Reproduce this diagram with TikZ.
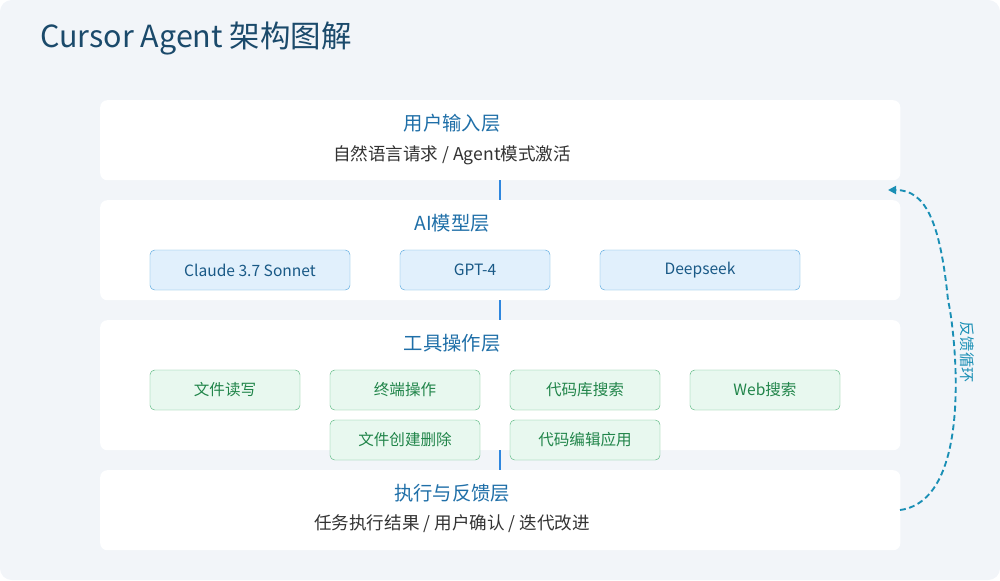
\documentclass[tikz,border=0pt]{standalone}
\usepackage{fontspec}
\setmainfont{Noto Sans CJK SC}
\usetikzlibrary{positioning,arrows.meta}
\definecolor{bgcol}{HTML}{F2F5F9}
\definecolor{titlecol}{HTML}{1B4A6B}
\definecolor{headcol}{HTML}{1F6FA8}
\definecolor{linkcol}{HTML}{2E86DE}
\definecolor{loopcol}{HTML}{1A8FB5}
\definecolor{modelfill}{HTML}{E1F0FC}
\definecolor{modeldraw}{HTML}{5AA9DE}
\definecolor{toolfill}{HTML}{E8F8EF}
\definecolor{tooldraw}{HTML}{5DBA83}
\definecolor{tooltext}{HTML}{21854A}
\tikzset{
  layerbox/.style={fill=white,rounded corners=6pt,minimum width=24cm,anchor=north west,inner sep=0pt},
  layerhead/.style={text=headcol,font=\fontsize{16.5}{19}\selectfont},
  layertext/.style={text=black!80,font=\fontsize{15}{17}\selectfont},
  modelbox/.style={fill=modelfill,draw=modeldraw,rounded corners=4pt,minimum height=1.2cm,text=headcol!80!black,font=\fontsize{13.3}{15}\selectfont},
  toolbox/.style={fill=toolfill,draw=tooldraw,rounded corners=4pt,minimum width=4.5cm,minimum height=1.2cm,text=tooltext,font=\fontsize{13.3}{15}\selectfont},
  layerlink/.style={draw=linkcol,line width=2pt}
}
\begin{document}
\begin{tikzpicture}[x=0.03cm,y=-0.03cm]
  \fill[bgcol,rounded corners=10pt] (0,0) rectangle (1000,580);
  \useasboundingbox (0,0) rectangle (1000,580);
  \node[anchor=west,text=titlecol,font=\fontsize{26}{30}\selectfont] (title) at (36,38) {Cursor Agent 架构图解};
  % layers
  \node[layerbox,minimum height=2.4cm] (input) at (100,100) {};
  \node[layerbox,minimum height=3cm] (model) at (100,200) {};
  \node[layerbox,minimum height=3.9cm] (tool) at (100,320) {};
  \node[layerbox,minimum height=2.4cm] (exec) at (100,470) {};
  \draw[layerlink] (input.south) -- (model.north);
  \draw[layerlink] (model.south) -- (tool.north);
  \draw[layerlink] (tool.south) -- (exec.north);
  % layer texts
  \node[layerhead] (inputhead) at (452,123) {用户输入层};
  \node[layertext] (inputtext) at (452,155) {自然语言请求 / Agent模式激活};
  \node[layerhead] (modelhead) at (452,223) {AI模型层};
  \node[layerhead] (toolhead) at (452,343) {工具操作层};
  \node[layerhead] (exechead) at (452,493) {执行与反馈层};
  \node[layertext] (exectext) at (452,524) {任务执行结果 / 用户确认 / 迭代改进};
  % models
  \node[modelbox,minimum width=6cm] (claude) at (250,270) {Claude 3.7 Sonnet};
  \node[modelbox,minimum width=4.5cm] (gpt) at (475,270) {GPT-4};
  \node[modelbox,minimum width=6cm] (deepseek) at (700,270) {Deepseek};
  % tools
  \node[toolbox] (files) at (225,390) {文件读写};
  \node[toolbox] (term) at (405,390) {终端操作};
  \node[toolbox] (search) at (585,390) {代码库搜索};
  \node[toolbox] (web) at (765,390) {Web搜索};
  \node[toolbox] (create) at (405,440) {文件创建删除};
  \node[toolbox] (apply) at (585,440) {代码编辑应用};
  % feedback loop
  \coordinate (loopstart) at (900,510);
  \coordinate (loopend) at (888,190);
  \draw[loopcol,line width=1.6pt,dash pattern=on 5pt off 3pt,-{Triangle[length=7pt,width=7pt]}]
    (loopstart) .. controls (975,500) and (955,330) .. (948,300) .. controls (940,220) and (925,190) .. (loopend);
  \node[rotate=-90,text=loopcol,font=\fontsize{13}{15}\selectfont] (looptext) at (967,352) {反馈循环};
\end{tikzpicture}
\end{document}
